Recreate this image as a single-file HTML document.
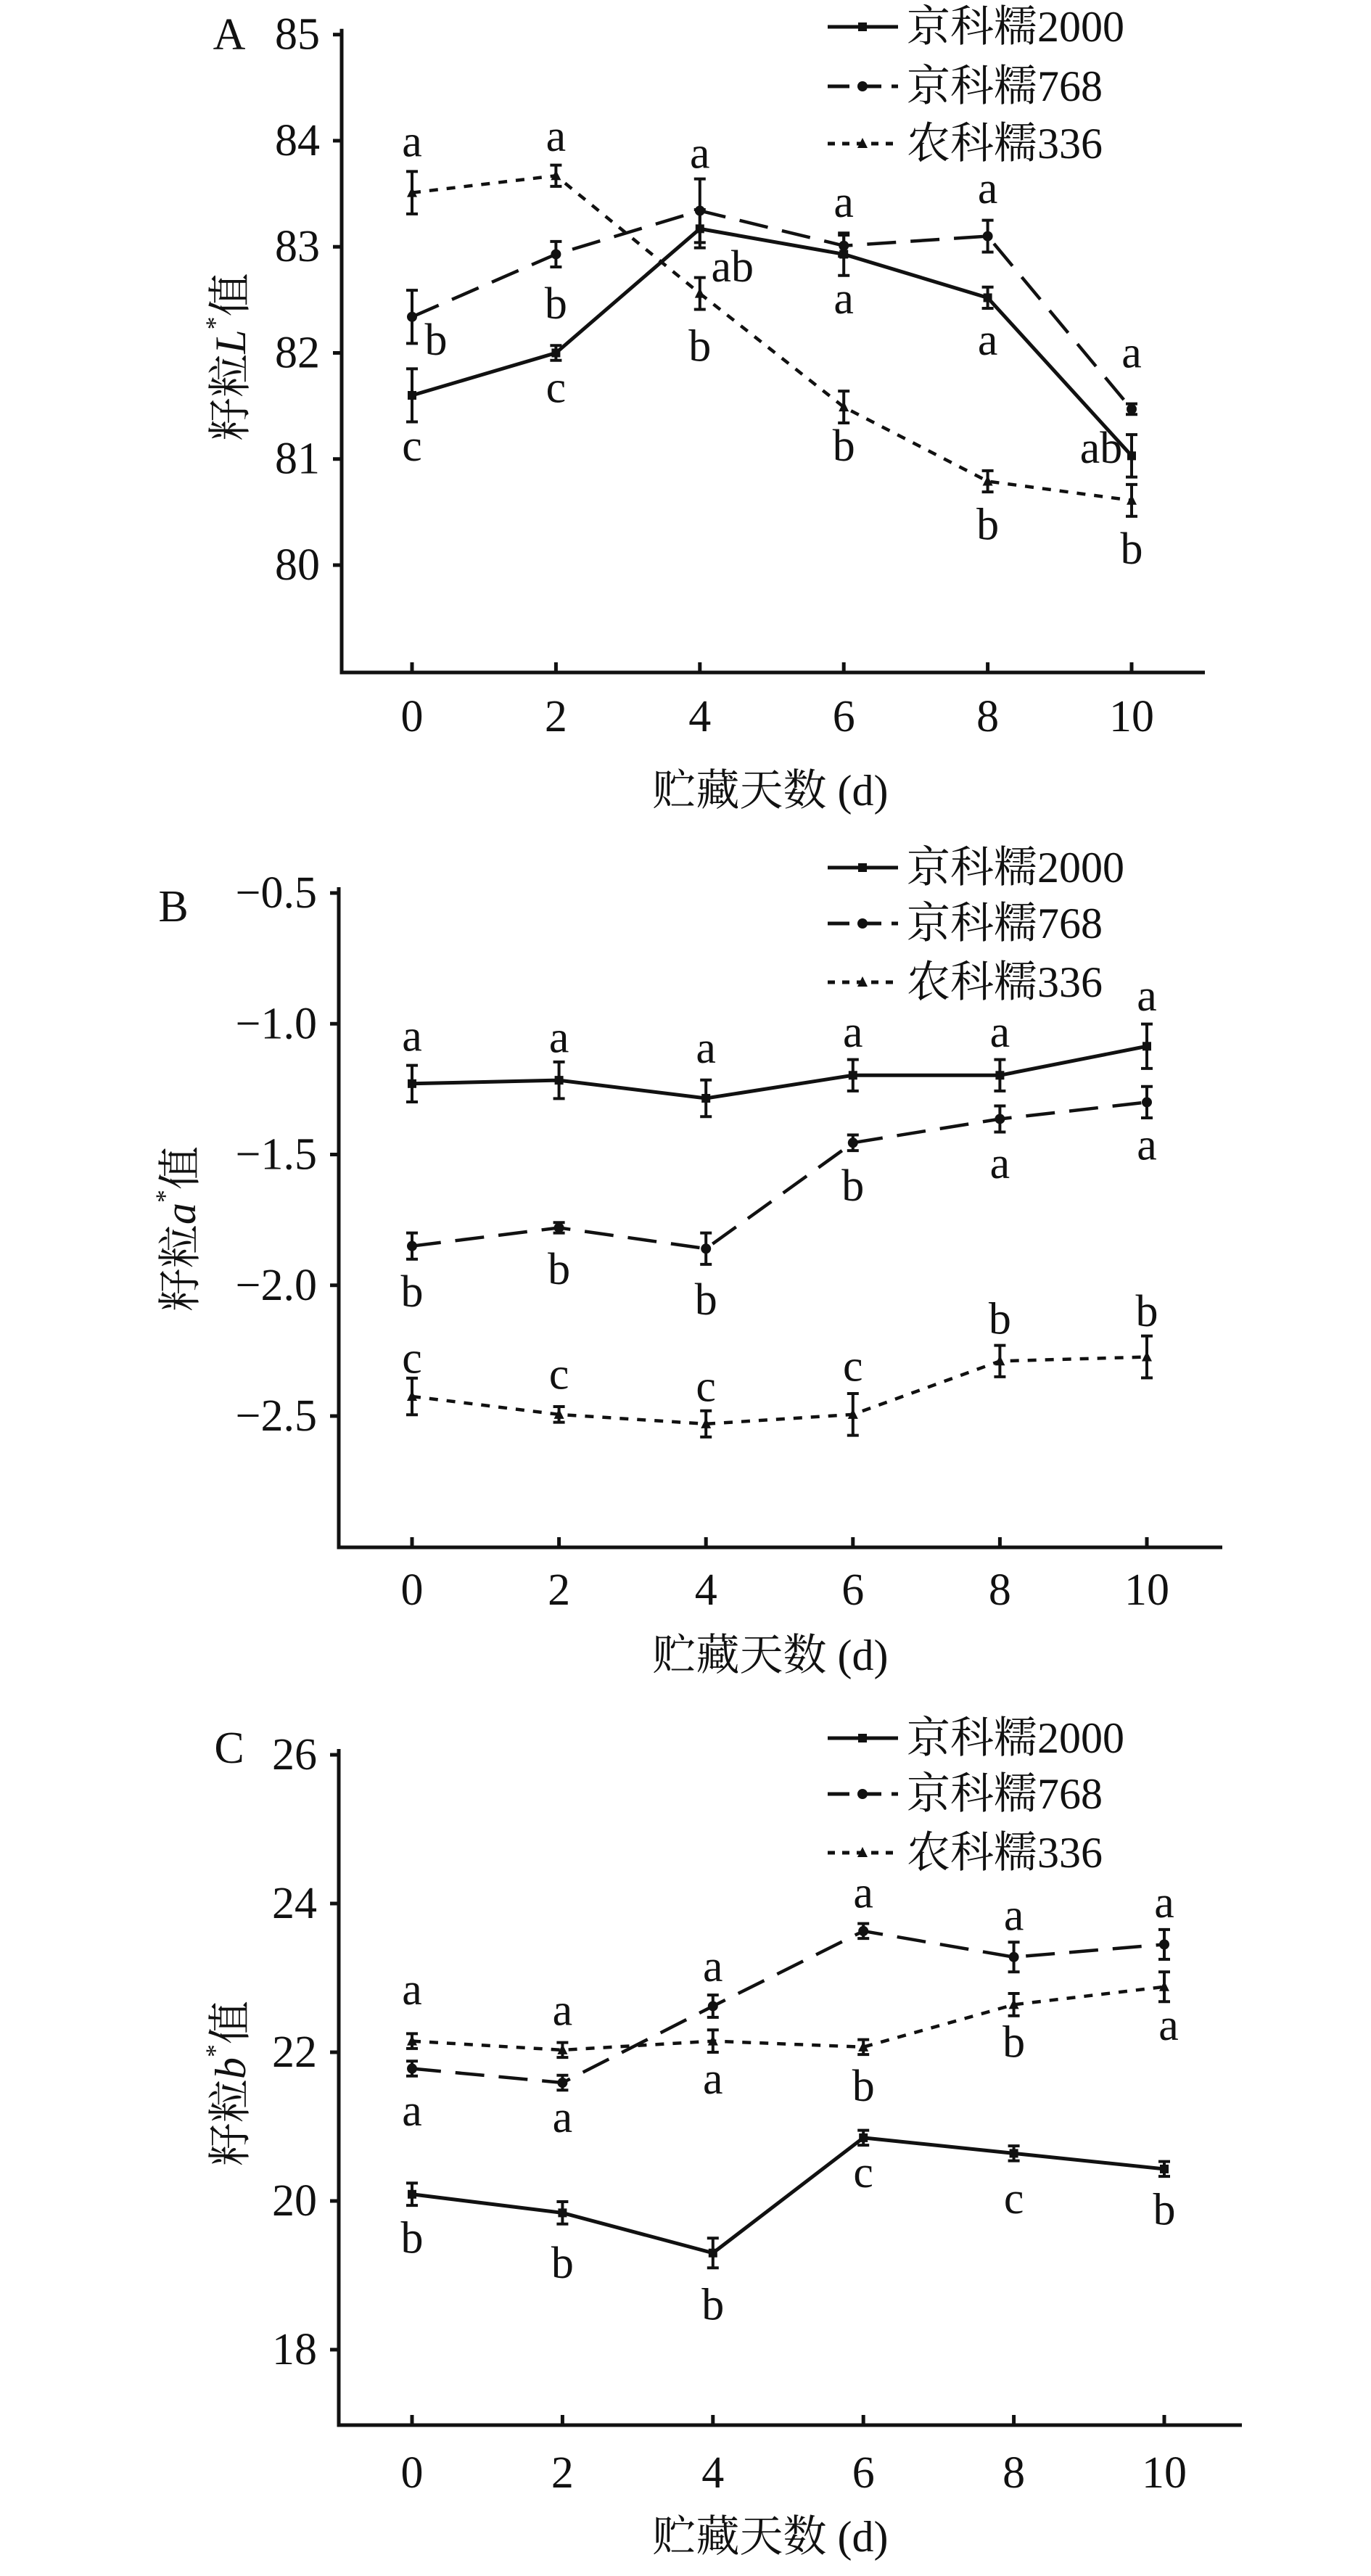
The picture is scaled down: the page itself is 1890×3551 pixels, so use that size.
<!DOCTYPE html>
<html><head><meta charset="utf-8">
<style>
html,body{margin:0;padding:0;background:#fff;}
svg{display:block;}
text{font-family:"Liberation Serif","Noto Serif CJK SC","Noto Sans CJK SC",serif;fill:#111;}
</style></head>
<body>
<svg id="fig" width="1890" height="3551" viewBox="0 0 1890 3551" xmlns="http://www.w3.org/2000/svg"></svg>
<script>
// ---- data ----
const days = [0, 2, 4, 6, 8, 10];
const seriesNames = ["京科糯2000", "京科糯768", "农科糯336"];
// Panel A: L*
const aJ2000 = [81.60, 82.00, 83.17, 82.93, 82.52, 81.03];
const aJ2000Err = [0.25, 0.07, 0.18, 0.2, 0.1, 0.2];
const aJ768 = [82.34, 82.93, 83.34, 83.01, 83.10, 81.47];
const aJ768Err = [0.25, 0.12, 0.3, 0.1, 0.15, 0.05];
const aN336 = [83.51, 83.67, 82.56, 81.49, 80.79, 80.61];
const aN336Err = [0.2, 0.1, 0.15, 0.15, 0.1, 0.15];
const aTicks = [80, 81, 82, 83, 84, 85];
const aTickLabels = ["80", "81", "82", "83", "84", "85"];
const aLetters = [[0,83.99,"a",0],[0,82.12,"b",33],[0,81.12,"c",0],[2,84.04,"a",0],[2,82.46,"b",0],[2,81.67,"c",0],[4,83.88,"a",0],[4,82.81,"ab",45],[4,82.06,"b",0],[6,83.42,"a",0],[6,82.51,"a",0],[6,81.12,"b",0],[8,83.55,"a",0],[8,82.12,"a",0],[8,80.38,"b",0],[10,82.0,"a",0],[10,81.10,"ab",-42],[10,80.15,"b",0]];
// Panel B: a*
const bJ2000 = [-1.229, -1.216, -1.285, -1.197, -1.197, -1.086];
const bJ2000Err = [0.07, 0.07, 0.07, 0.06, 0.06, 0.085];
const bJ768 = [-1.85, -1.78, -1.86, -1.455, -1.364, -1.30];
const bJ768Err = [0.05, 0.02, 0.06, 0.03, 0.05, 0.06];
const bN336 = [-2.425, -2.494, -2.53, -2.494, -2.29, -2.274];
const bN336Err = [0.07, 0.03, 0.05, 0.08, 0.06, 0.08];
const bTicks = [-2.5, -2.0, -1.5, -1.0, -0.5];
const bTickLabels = ["−2.5", "−2.0", "−1.5", "−1.0", "−0.5"];
const bLetters = [[0,-1.048,"a",0],[0,-2.025,"b",0],[0,-2.28,"c",0],[2,-1.054,"a",0],[2,-1.94,"b",0],[2,-2.34,"c",0],[4,-1.093,"a",0],[4,-2.056,"b",0],[4,-2.387,"c",0],[6,-1.033,"a",0],[6,-1.62,"b",0],[6,-2.31,"c",0],[8,-1.033,"a",0],[8,-1.534,"a",0],[8,-2.13,"b",0],[10,-0.894,"a",0],[10,-1.464,"a",0],[10,-2.1,"b",0]];
// Panel C: b*
const cJ2000 = [20.09, 19.84, 19.30, 20.85, 20.64, 20.43];
const cJ2000Err = [0.15, 0.15, 0.2, 0.1, 0.1, 0.1];
const cJ768 = [21.78, 21.59, 22.62, 23.63, 23.28, 23.45];
const cJ768Err = [0.1, 0.1, 0.15, 0.1, 0.2, 0.2];
const cN336 = [22.15, 22.03, 22.15, 22.07, 22.64, 22.88];
const cN336Err = [0.1, 0.1, 0.15, 0.1, 0.15, 0.2];
const cTicks = [18, 20, 22, 24, 26];
const cTickLabels = ["18", "20", "22", "24", "26"];
const cLetters = [[0,22.84,"a",0],[0,21.21,"a",0],[0,19.50,"b",0],[2,22.56,"a",0],[2,21.12,"a",0],[2,19.16,"b",0],[4,23.15,"a",0],[4,21.64,"a",0],[4,18.60,"b",0],[6,24.14,"a",0],[6,21.54,"b",0],[6,20.38,"c",0],[8,23.84,"a",0],[8,22.13,"b",0],[8,20.03,"c",0],[10,24.01,"a",0],[10,22.36,"a",6],[10,19.88,"b",0]];

// ---- layout ----
const NS = "http://www.w3.org/2000/svg";
const svg = document.getElementById("fig");
const dashes = ["none", "40 20", "12 12"];
function el(tag, attrs, parent){
  const e = document.createElementNS(NS, tag);
  for (const k in attrs) e.setAttribute(k, attrs[k]);
  (parent||svg).appendChild(e); return e;
}
const panels = [
  {id:"a", label:"A", letterY:48, ax:471, axRight:1661, x0:568, x10:1560, yTopV:85, yTopP:47.7, yBotV:80, yBotP:779, axBottom:927, tickY:988, titleY:1090, ytX:318, ytY:492, legY:[37,119,198], ylab:"L",
   ticks:aTicks, tickLabels:aTickLabels, s:[aJ2000,aJ768,aN336], e:[aJ2000Err,aJ768Err,aN336Err], letters:aLetters, lx:316},
  {id:"b", label:"B", letterY:1250, ax:467, axRight:1685, x0:568, x10:1581, yTopV:-0.5, yTopP:1231, yBotV:-2.5, yBotP:1952, axBottom:2133, tickY:2192, titleY:2282, ytX:249, ytY:1694, legY:[1196,1273,1354], ylab:"a",
   ticks:bTicks, tickLabels:bTickLabels, s:[bJ2000,bJ768,bN336], e:[bJ2000Err,bJ768Err,bN336Err], letters:bLetters, lx:239},
  {id:"c", label:"C", letterY:2410, ax:467, axRight:1712, x0:568, x10:1605, yTopV:26, yTopP:2419, yBotV:18, yBotP:3239, axBottom:3343, tickY:3409, titleY:3497, ytX:318, ytY:2872, legY:[2396,2473,2554], ylab:"b",
   ticks:cTicks, tickLabels:cTickLabels, s:[cJ2000,cJ768,cN336], e:[cJ2000Err,cJ768Err,cN336Err], letters:cLetters, lx:316}
];

function marker(g, kind, x, y){
  let m;
  if (kind===0) m = el("rect",{x:x-6,y:y-6,width:12,height:12,fill:"#111"},g);
  else if (kind===1) m = el("circle",{cx:x,cy:y,r:7,fill:"#111"},g);
  else m = el("polygon",{points:`${x},${y-8} ${x-7},${y+6} ${x+7},${y+6}`,fill:"#111"},g);
  
  
  return m;
}

panels.forEach(p=>{
  const g = el("g",{});
  
  
  const X = d => p.x0 + (d - days[0]) * (p.x10 - p.x0) / (days[days.length-1] - days[0]);
  const Y = v => p.yTopP + (p.yTopV - v) * (p.yBotP - p.yTopP) / (p.yTopV - p.yBotV);

  // axes
  const axes = el("path",{d:`M${p.ax},${p.yTopP-8} L${p.ax},${p.axBottom} L${p.axRight},${p.axBottom}`,fill:"none",stroke:"#111","stroke-width":5},g);
  
  
  p.ticks.forEach((t,i)=>{
    const tk = el("line",{x1:p.ax-12,x2:p.ax,y1:Y(t),y2:Y(t),stroke:"#111","stroke-width":5},g);
    
    
    const tl = el("text",{x:p.ax-30,y:Y(t),"text-anchor":"end","dominant-baseline":"central","font-size":62},g);
    tl.textContent = p.tickLabels[i];
    
    
  });
  days.forEach(d=>{
    const tk = el("line",{x1:X(d),x2:X(d),y1:p.axBottom-14,y2:p.axBottom,stroke:"#111","stroke-width":5},g);
    
    
    const tl = el("text",{x:X(d),y:p.tickY,"text-anchor":"middle","dominant-baseline":"central","font-size":62},g);
    tl.textContent = String(d);
    
    
  });
  const xt = el("text",{x:1062,y:p.titleY,"text-anchor":"middle","dominant-baseline":"central","font-size":60},g);
  xt.textContent = "贮藏天数 (d)";
  
  
  const yt = el("text",{x:p.ytX,y:p.ytY,"text-anchor":"middle","dominant-baseline":"central","font-size":60,transform:`rotate(-90 ${p.ytX} ${p.ytY})`},g);
  yt.innerHTML = `籽粒<tspan font-style="italic">${p.ylab}</tspan><tspan font-size="36" dy="-22">*</tspan><tspan dy="22">值</tspan>`;
  
  
  const pl = el("text",{x:p.lx,y:p.letterY,"text-anchor":"middle","dominant-baseline":"central","font-size":62},g);
  pl.textContent = p.label;
  
  

  // series
  p.s.forEach((vals,si)=>{
    const sg = el("g",{},g);
    
    
    const pts = vals.map((v,i)=>`${X(days[i])},${Y(v)}`).join(" ");
    const line = el("polyline",{points:pts,fill:"none",stroke:"#111","stroke-width":si===0?5:4.5,"stroke-dasharray":dashes[si]},sg);
    
    
    vals.forEach((v,i)=>{
      const x = X(days[i]), e = p.e[si][i];
      const eb = el("path",{d:`M${x},${Y(v+e)} L${x},${Y(v-e)} M${x-8},${Y(v+e)} L${x+8},${Y(v+e)} M${x-8},${Y(v-e)} L${x+8},${Y(v-e)}`,stroke:"#111","stroke-width":4,fill:"none"},sg);
      
      
      marker(sg, si, x, Y(v));
    });
  });
  // letters
  p.letters.forEach(L=>{
    const t = el("text",{x:X(L[0])+L[3],y:Y(L[1]),"text-anchor":"middle","dominant-baseline":"central","font-size":62},g);
    t.textContent = L[2];
    
    
  });
  // legend
  p.legY.forEach((ly,si)=>{
    const lg = el("g",{},g);
    
    
    el("line",{x1:1141,x2:1238,y1:ly,y2:ly,stroke:"#111","stroke-width":5,"stroke-dasharray":si===0?"none":(si===1?"30 14":"10 10")},lg);
    marker(lg, si, 1189, ly);
    const t = el("text",{x:1250,y:ly,"dominant-baseline":"central","font-size":60},lg);
    t.textContent = seriesNames[si];
  });
});
</script>
</body></html>
